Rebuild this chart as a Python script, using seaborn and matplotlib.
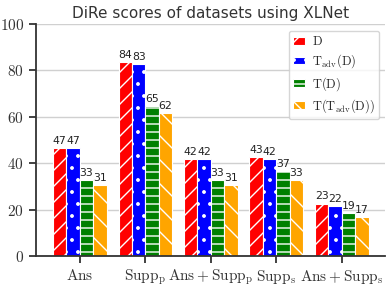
import matplotlib
matplotlib.use("Agg")
import matplotlib.pyplot as plt
import seaborn as sns
import pandas as pd

categories = [r"$\mathrm{Ans}$", r"$\mathrm{Supp_p}$", r"$\mathrm{Ans+Supp_p}$",
              r"$\mathrm{Supp_s}$", r"$\mathrm{Ans+Supp_s}$"]
series_names = [r"$\mathrm{D}$", r"$\mathrm{T_{adv}(D)}$", r"$\mathrm{T(D)}$",
                r"$\mathrm{T(T_{adv}(D))}$"]
vals_D = [46.6, 83.6, 41.7, 42.6, 22.6]
vals_Tadv = [46.6, 82.6, 41.6, 41.7, 21.7]
vals_TD = [32.6, 64.6, 32.6, 36.6, 18.6]
vals_TTadv = [30.6, 61.6, 30.6, 32.6, 16.6]
yticks = [0, 20, 40, 60, 80, 100]

colors = ["red", "blue", "green", "orange"]
hatches = ["///", "..", "---", "\\\\"]

DPI = 144
S = 100.0 / DPI  # convert "points at 100 dpi" to points at DPI


def pt(x):
    return x * S


rows = []
for name, vals in zip(series_names, [vals_D, vals_Tadv, vals_TD, vals_TTadv]):
    for c, v in zip(categories, vals):
        rows.append({"cat": c, "series": name, "val": v})
df = pd.DataFrame(rows)

sns.set_style("whitegrid")
plt.rcParams["mathtext.fontset"] = "cm"
plt.rcParams["hatch.color"] = "white"
plt.rcParams["hatch.linewidth"] = pt(1.0)
plt.rcParams["grid.linewidth"] = pt(1.0)
plt.rcParams["grid.color"] = "#d0d0d0"

fig = plt.figure(figsize=(392 / DPI, 288 / DPI), dpi=DPI)
ax = fig.add_axes([36 / 392, 1 - 256 / 288, (385 - 36) / 392, (256 - 24) / 288])

sns.barplot(data=df, x="cat", y="val", hue="series", palette=colors,
            order=categories, hue_order=series_names, width=0.82, saturation=1,
            edgecolor="white", linewidth=pt(0.8), legend=False, ax=ax, errorbar=None)

for cont, h in zip(ax.containers, hatches):
    for p in cont.patches:
        p.set_hatch(h)
    ax.bar_label(cont, fmt="%.0f", padding=pt(1.5), fontsize=pt(7.8), color="#222222")

ax.set_xlim(-0.67, 4.66)
ax.set_ylim(0, 100)
ax.set_yticks(yticks)
ax.set_yticklabels([f"${t}$" for t in yticks], fontsize=pt(11))
ax.tick_params(axis="x", labelsize=pt(11))
ax.set_xlabel("")
ax.set_ylabel("")
ax.set_title("DiRe scores of datasets using XLNet", fontsize=pt(11), color="#333333", pad=pt(4))

for s in ["top", "right"]:
    ax.spines[s].set_visible(False)
for s in ["left", "bottom"]:
    ax.spines[s].set_color("#333333")
    ax.spines[s].set_linewidth(pt(1.3))
ax.tick_params(axis="both", which="major", length=pt(5), width=pt(1.3), color="#333333",
               pad=pt(3.5), left=True, bottom=True, labelcolor="#333333")

leg = ax.legend(ax.containers, series_names, loc="upper right", fontsize=pt(9),
                frameon=True, handlelength=1.0, handleheight=0.55,
                borderpad=0.35, labelspacing=0.35, handletextpad=0.5,
                borderaxespad=0, bbox_to_anchor=(0.983, 0.970))
leg.get_frame().set_linewidth(pt(1.0))

fig.savefig("out.png", dpi=DPI)
